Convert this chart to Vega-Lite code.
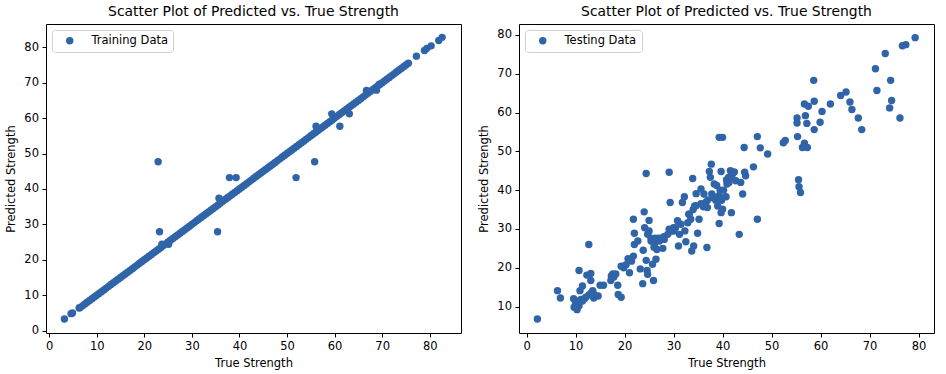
{
  "$schema": "https://vega.github.io/schema/vega-lite/v6.json",
  "padding": {"left": 5, "top": 4, "right": 5, "bottom": 5},
  "config": {
    "font": "DejaVu Sans",
    "view": {"stroke": "#000", "strokeWidth": 1},
    "axis": {"grid": false, "domain": false, "tickColor": "#000", "tickSize": 4, "tickWidth": 1, "labelFont": "DejaVu Sans", "labelFontSize": 11.5, "labelColor": "#000", "titleFont": "DejaVu Sans", "titleFontSize": 11.5, "titleFontWeight": "normal", "titleColor": "#000", "labelPadding": 3.5},
    "axisX": {"titlePadding": 5},
    "axisY": {"titlePadding": 7},
    "title": {"fontSize": 13.9, "fontWeight": "normal", "font": "DejaVu Sans", "color": "#000", "offset": 5},
    "legend": {"orient": "top-left", "offset": 6, "padding": 5, "strokeColor": "#d0d0d0", "strokeWidth": 1, "cornerRadius": 3, "fillColor": "rgba(255,255,255,0.8)", "labelFontSize": 11.5, "labelFont": "DejaVu Sans", "labelColor": "#000", "symbolSize": 55, "symbolType": "circle", "symbolStrokeWidth": 0, "labelOffset": 16, "symbolOffset": 7, "symbolOpacity": 1},
    "concat": {"spacing": 16}
  },
  "datasets": {
    "train": [
      {"t":3.2,"p":3.3},{"t":4.6,"p":4.8},{"t":4.9,"p":5.0},{"t":6.3,"p":6.4},
      {"t":6.5,"p":6.5},{"t":7.0,"p":7.0},{"t":7.5,"p":7.5},{"t":8.0,"p":8.0},{"t":8.5,"p":8.5},{"t":9.0,"p":9.0},{"t":9.5,"p":9.5},
      {"t":10.0,"p":10.0},{"t":10.5,"p":10.5},{"t":11.0,"p":11.0},{"t":11.5,"p":11.5},{"t":12.0,"p":12.0},{"t":12.5,"p":12.5},{"t":13.0,"p":13.0},{"t":13.5,"p":13.5},{"t":14.0,"p":14.0},{"t":14.5,"p":14.5},
      {"t":15.0,"p":15.0},{"t":15.5,"p":15.5},{"t":16.0,"p":16.0},{"t":16.5,"p":16.5},{"t":17.0,"p":17.0},{"t":17.5,"p":17.5},{"t":18.0,"p":18.0},{"t":18.5,"p":18.5},{"t":19.0,"p":19.0},{"t":19.5,"p":19.5},
      {"t":20.0,"p":20.0},{"t":20.5,"p":20.5},{"t":21.0,"p":21.0},{"t":21.5,"p":21.5},{"t":22.0,"p":22.0},{"t":22.5,"p":22.5},{"t":23.0,"p":23.0},{"t":23.5,"p":23.5},{"t":24.0,"p":24.0},{"t":24.5,"p":24.5},
      {"t":25.0,"p":25.0},{"t":25.5,"p":25.5},{"t":26.0,"p":26.0},{"t":26.5,"p":26.5},{"t":27.0,"p":27.0},{"t":27.5,"p":27.5},{"t":28.0,"p":28.0},{"t":28.5,"p":28.5},{"t":29.0,"p":29.0},{"t":29.5,"p":29.5},
      {"t":30.0,"p":30.0},{"t":30.5,"p":30.5},{"t":31.0,"p":31.0},{"t":31.5,"p":31.5},{"t":32.0,"p":32.0},{"t":32.5,"p":32.5},{"t":33.0,"p":33.0},{"t":33.5,"p":33.5},{"t":34.0,"p":34.0},{"t":34.5,"p":34.5},
      {"t":35.0,"p":35.0},{"t":35.5,"p":35.5},{"t":36.0,"p":36.0},{"t":36.5,"p":36.5},{"t":37.0,"p":37.0},{"t":37.5,"p":37.5},{"t":38.0,"p":38.0},{"t":38.5,"p":38.5},{"t":39.0,"p":39.0},{"t":39.5,"p":39.5},
      {"t":40.0,"p":40.0},{"t":40.5,"p":40.5},{"t":41.0,"p":41.0},{"t":41.5,"p":41.5},{"t":42.0,"p":42.0},{"t":42.5,"p":42.5},{"t":43.0,"p":43.0},{"t":43.5,"p":43.5},{"t":44.0,"p":44.0},{"t":44.5,"p":44.5},
      {"t":45.0,"p":45.0},{"t":45.5,"p":45.5},{"t":46.0,"p":46.0},{"t":46.5,"p":46.5},{"t":47.0,"p":47.0},{"t":47.5,"p":47.5},{"t":48.0,"p":48.0},{"t":48.5,"p":48.5},{"t":49.0,"p":49.0},{"t":49.5,"p":49.5},
      {"t":50.0,"p":50.0},{"t":50.5,"p":50.5},{"t":51.0,"p":51.0},{"t":51.5,"p":51.5},{"t":52.0,"p":52.0},{"t":52.5,"p":52.5},{"t":53.0,"p":53.0},{"t":53.5,"p":53.5},{"t":54.0,"p":54.0},{"t":54.5,"p":54.5},
      {"t":55.0,"p":55.0},{"t":55.5,"p":55.5},{"t":56.0,"p":56.0},{"t":56.5,"p":56.5},{"t":57.0,"p":57.0},{"t":57.5,"p":57.5},{"t":58.0,"p":58.0},{"t":58.5,"p":58.5},{"t":59.0,"p":59.0},{"t":59.5,"p":59.5},
      {"t":60.0,"p":60.0},{"t":60.5,"p":60.5},{"t":61.0,"p":61.0},{"t":61.5,"p":61.5},{"t":62.0,"p":62.0},{"t":62.5,"p":62.5},{"t":63.0,"p":63.0},{"t":63.5,"p":63.5},{"t":64.0,"p":64.0},{"t":64.5,"p":64.5},
      {"t":65.0,"p":65.0},{"t":65.5,"p":65.5},{"t":66.0,"p":66.0},{"t":66.5,"p":66.5},{"t":67.0,"p":67.0},{"t":67.5,"p":67.5},{"t":68.0,"p":68.0},{"t":68.5,"p":68.5},{"t":69.0,"p":69.0},{"t":69.5,"p":69.5},
      {"t":70.0,"p":70.0},{"t":70.5,"p":70.5},{"t":71.0,"p":71.0},{"t":71.5,"p":71.5},{"t":72.0,"p":72.0},{"t":72.5,"p":72.5},{"t":73.0,"p":73.0},{"t":73.5,"p":73.5},{"t":74.0,"p":74.0},{"t":74.5,"p":74.5},
      {"t":75.0,"p":75.0},{"t":75.5,"p":75.5},
      {"t":77.2,"p":77.5},{"t":78.9,"p":79.1},{"t":79.4,"p":79.7},{"t":80.3,"p":80.4},{"t":81.9,"p":81.9},{"t":82.6,"p":82.8},
      {"t":22.9,"p":47.7},{"t":23.2,"p":27.9},{"t":35.4,"p":27.9},{"t":35.7,"p":37.4},{"t":37.9,"p":43.2},{"t":39.3,"p":43.2},{"t":51.9,"p":43.2},{"t":55.8,"p":47.7},{"t":56.1,"p":57.7},{"t":59.4,"p":61.2},{"t":61.1,"p":57.7},{"t":63.1,"p":61.2},{"t":66.7,"p":67.8},{"t":68.8,"p":67.9},{"t":23.7,"p":24.4},{"t":25.1,"p":24.4},{"t":69.4,"p":69.6}
    ],
    "test": [
      {"t":2.2,"p":6.8},{"t":6.3,"p":14.1},{"t":6.9,"p":12.2},{"t":9.6,"p":12.0},{"t":9.7,"p":9.8},{"t":10.3,"p":9.2},{"t":10.7,"p":19.3},{"t":10.9,"p":14.1},{"t":11.4,"p":15.3},{"t":11.1,"p":11.8},
      {"t":10.4,"p":11.4},{"t":12.1,"p":12.4},{"t":12.7,"p":26.0},{"t":12.3,"p":18.1},{"t":13.1,"p":18.5},{"t":13.1,"p":16.7},{"t":13.5,"p":14.1},{"t":13.7,"p":12.2},{"t":14.6,"p":12.7},{"t":15.0,"p":15.5},
      {"t":15.7,"p":15.5},{"t":17.2,"p":16.7},{"t":17.6,"p":18.4},{"t":18.2,"p":18.4},{"t":17.8,"p":17.6},{"t":18.6,"p":15.5},{"t":18.7,"p":13.1},{"t":19.3,"p":12.4},{"t":19.3,"p":20.4},{"t":19.8,"p":20.0},
      {"t":20.7,"p":22.3},{"t":21.0,"p":18.7},{"t":21.4,"p":21.7},{"t":21.8,"p":23.0},{"t":21.8,"p":32.5},{"t":22.0,"p":26.0},{"t":22.0,"p":28.9},{"t":22.7,"p":26.9},{"t":23.2,"p":19.7},{"t":23.7,"p":15.9},
      {"t":23.8,"p":24.5},{"t":24.0,"p":34.4},{"t":24.1,"p":30.3},{"t":24.4,"p":44.3},{"t":24.4,"p":21.9},{"t":24.6,"p":19.3},{"t":24.7,"p":18.3},{"t":24.7,"p":28.6},{"t":25.0,"p":29.5},{"t":25.0,"p":32.2},
      {"t":25.4,"p":26.9},{"t":25.7,"p":20.9},{"t":25.9,"p":16.7},{"t":26.1,"p":26.0},{"t":26.3,"p":27.6},{"t":26.4,"p":22.2},{"t":26.6,"p":24.7},{"t":27.1,"p":26.9},{"t":27.8,"p":25.0},{"t":28.1,"p":27.3},
      {"t":28.8,"p":28.6},{"t":29.1,"p":44.6},{"t":29.3,"p":36.8},{"t":29.1,"p":29.9},{"t":29.8,"p":29.5},{"t":30.0,"p":30.3},{"t":30.8,"p":32.1},{"t":31.2,"p":28.6},{"t":31.0,"p":25.6},{"t":31.5,"p":31.2},
      {"t":31.8,"p":36.8},{"t":32.2,"p":38.3},{"t":32.3,"p":29.5},{"t":32.5,"p":26.7},{"t":32.9,"p":31.6},{"t":33.2,"p":33.8},{"t":33.5,"p":32.5},{"t":33.7,"p":24.3},{"t":33.9,"p":43.0},{"t":34.1,"p":25.6},
      {"t":34.3,"p":35.9},{"t":34.6,"p":39.1},{"t":34.9,"p":28.9},{"t":35.2,"p":32.5},{"t":35.6,"p":40.3},{"t":36.1,"p":35.7},{"t":36.2,"p":39.0},{"t":36.8,"p":25.2},{"t":36.9,"p":35.5},{"t":37.3,"p":44.8},
      {"t":37.5,"p":43.3},{"t":37.7,"p":46.7},{"t":38.0,"p":38.1},{"t":38.3,"p":41.6},{"t":38.6,"p":37.4},{"t":38.8,"p":41.2},{"t":39.0,"p":35.9},{"t":39.3,"p":31.4},{"t":39.5,"p":40.0},{"t":39.7,"p":34.2},
      {"t":39.3,"p":53.6},{"t":40.0,"p":53.6},{"t":39.7,"p":44.8},{"t":39.8,"p":37.4},{"t":40.0,"p":35.1},{"t":40.7,"p":38.3},{"t":40.9,"p":41.6},{"t":41.2,"p":43.3},{"t":41.6,"p":45.0},{"t":41.8,"p":34.2},
      {"t":42.0,"p":44.1},{"t":42.4,"p":44.7},{"t":42.7,"p":42.4},{"t":43.4,"p":28.6},{"t":43.7,"p":42.0},{"t":44.1,"p":39.0},{"t":44.4,"p":51.0},{"t":44.5,"p":44.6},{"t":44.7,"p":43.7},{"t":46.3,"p":46.0},
      {"t":47.1,"p":32.5},{"t":47.1,"p":53.8},{"t":47.7,"p":50.9},{"t":49.2,"p":49.3},{"t":52.4,"p":52.2},{"t":52.8,"p":52.8},{"t":55.2,"p":58.6},{"t":55.2,"p":57.3},{"t":55.3,"p":53.8},{"t":55.5,"p":42.7},
      {"t":55.6,"p":40.9},{"t":55.9,"p":39.4},{"t":56.3,"p":51.0},{"t":56.7,"p":52.1},{"t":56.9,"p":59.2},{"t":56.7,"p":62.2},{"t":57.2,"p":57.2},{"t":57.3,"p":51.0},{"t":57.5,"p":61.6},{"t":58.6,"p":68.3},
      {"t":58.7,"p":62.9},{"t":58.7,"p":55.6},{"t":59.9,"p":57.5},{"t":60.3,"p":60.3},{"t":62.0,"p":62.2},{"t":64.1,"p":64.4},{"t":65.2,"p":65.3},{"t":66.0,"p":62.7},{"t":66.4,"p":60.8},{"t":67.7,"p":58.6},
      {"t":68.4,"p":55.6},{"t":71.2,"p":71.3},{"t":71.5,"p":65.7},{"t":73.2,"p":75.2},{"t":74.3,"p":68.3},{"t":74.5,"p":63.1},{"t":74.1,"p":61.2},{"t":76.2,"p":58.6},{"t":76.7,"p":77.2},{"t":77.4,"p":77.5},
      {"t":79.3,"p":79.3},
      {"t":25.4,"p":27.6},{"t":26.0,"p":25.3},{"t":27.0,"p":27.6},{"t":28.0,"p":28.0},{"t":29.3,"p":29.5},{"t":30.0,"p":29.5},{"t":30.4,"p":30.3},{"t":33.1,"p":33.8},{"t":34.0,"p":35.0},{"t":34.6,"p":36.0},
      {"t":35.6,"p":36.5},{"t":36.6,"p":36.9},{"t":37.0,"p":37.5},{"t":37.8,"p":39.0},{"t":38.5,"p":38.0},{"t":39.2,"p":38.5},{"t":40.2,"p":40.0},{"t":40.8,"p":42.6},{"t":41.3,"p":42.0},{"t":41.8,"p":43.3},
      {"t":10.0,"p":10.7},{"t":10.7,"p":10.2},{"t":11.4,"p":11.4},{"t":11.8,"p":12.0},{"t":12.7,"p":13.0},{"t":13.2,"p":13.5},{"t":13.8,"p":13.1},{"t":20.3,"p":20.8},{"t":21.3,"p":22.0},{"t":17.3,"p":17.9},
      {"t":39.9,"p":38.0}
    ]
  },
  "hconcat": [
    {
      "data": {"name": "train"},
      "title": "Scatter Plot of Predicted vs. True Strength",
      "width": 415,
      "height": 309,
      "mark": {"type": "circle", "size": 55, "opacity": 1},
      "encoding": {
        "x": {"field": "t", "type": "quantitative", "title": "True Strength", "scale": {"domain": [-0.67, 86.57], "nice": false, "zero": false}, "axis": {"values": [0, 10, 20, 30, 40, 50, 60, 70, 80]}},
        "y": {"field": "p", "type": "quantitative", "title": "Predicted Strength", "scale": {"domain": [-0.67, 86.57], "nice": false, "zero": false}, "axis": {"values": [0, 10, 20, 30, 40, 50, 60, 70, 80]}},
        "color": {"datum": "Training Data", "type": "nominal", "scale": {"range": ["#3064a9"]}, "legend": {"title": null}}
      }
    },
    {
      "data": {"name": "test"},
      "title": "Scatter Plot of Predicted vs. True Strength",
      "width": 415,
      "height": 309,
      "mark": {"type": "circle", "size": 55, "opacity": 1},
      "encoding": {
        "x": {"field": "t", "type": "quantitative", "title": "True Strength", "scale": {"domain": [-1.55, 83.15], "nice": false, "zero": false}, "axis": {"values": [0, 10, 20, 30, 40, 50, 60, 70, 80]}},
        "y": {"field": "p", "type": "quantitative", "title": "Predicted Strength", "scale": {"domain": [3.18, 82.82], "nice": false, "zero": false}, "axis": {"values": [10, 20, 30, 40, 50, 60, 70, 80]}},
        "color": {"datum": "Testing Data", "type": "nominal", "scale": {"range": ["#3064a9"]}, "legend": {"title": null}}
      }
    }
  ],
  "resolve": {"scale": {"color": "independent"}, "legend": {"color": "independent"}}
}
